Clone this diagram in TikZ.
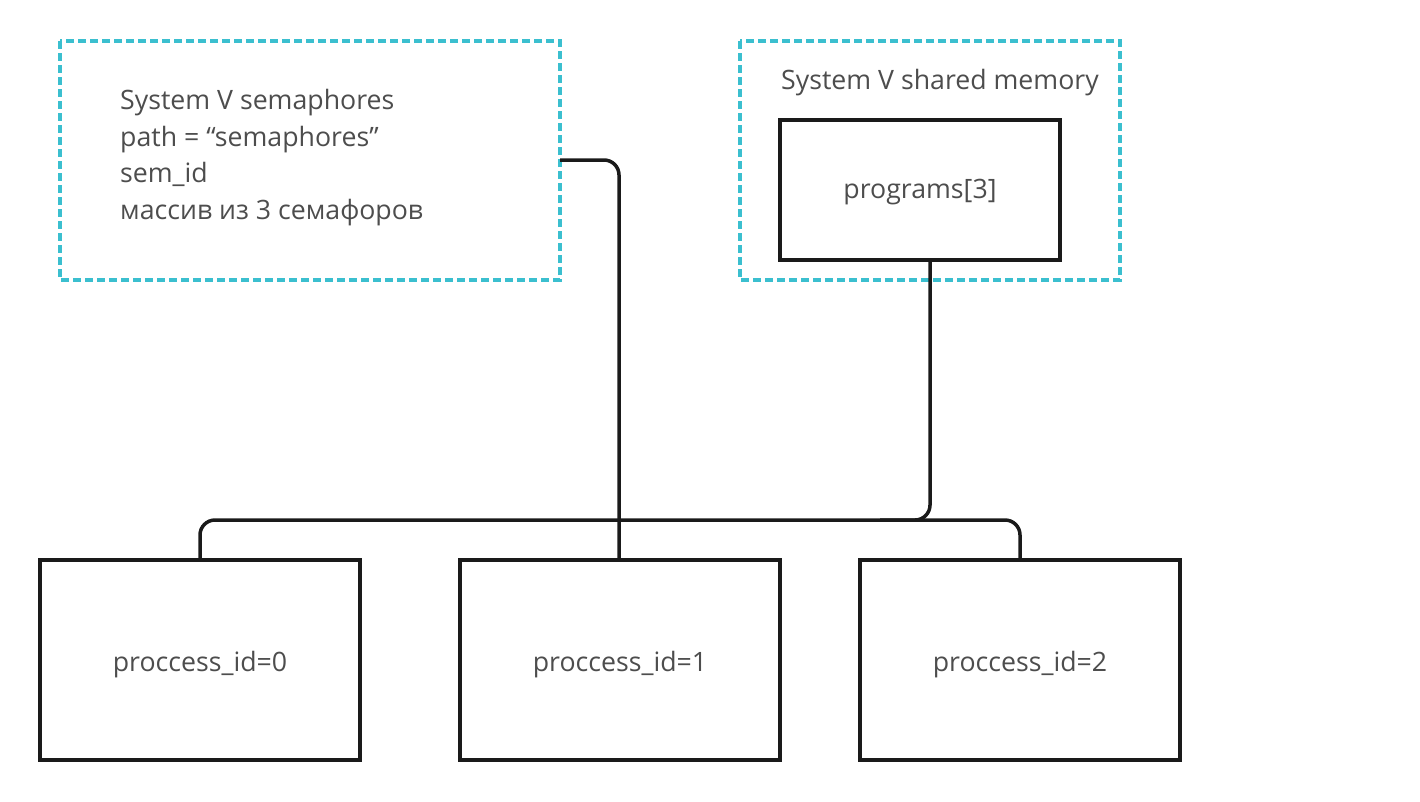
\documentclass[tikz,border=0pt]{standalone}
\usepackage{fontspec}
\setmainfont{Open Sans}
\definecolor{txt}{HTML}{4D4D4D}
\definecolor{teal}{HTML}{3BBFCF}
\definecolor{ink}{HTML}{1A1A1A}
\tikzset{
  grp/.style={draw=teal, line width=3.2pt, dash pattern=on 8pt off 4pt},
  box/.style={draw=ink, line width=3.5pt},
  lbl/.style={text=txt, font=\fontsize{26.7}{37}\selectfont, inner sep=0pt},
  wire/.style={draw=ink, line width=3.5pt, rounded corners=15pt}
}
\begin{document}
\begin{tikzpicture}[x=1pt,y=-1pt]
\useasboundingbox (0,0) rectangle (1420,801);
% group boxes
\draw[grp] (60,41) rectangle (560,280);
\draw[grp] (740,41) rectangle (1120,280);
\coordinate (semR) at (560,160);
\node[lbl, anchor=base west] (semtxt) at (120,109) {System V semaphores};
\node[lbl, anchor=base west] (semp) at (120,146) {path = “semaphores”};
\node[lbl, anchor=base west] (semi) at (120,182) {sem\_id};
\node[lbl, anchor=base west] (semm) at (120,219) {массив из 3 семафоров};
\node[lbl, anchor=base] (shmtxt) at (940,89) {System V shared memory};
% boxes
\node[box, minimum width=280pt, minimum height=140pt] (prog) at (920,190) {};
\node[box, minimum width=320pt, minimum height=200pt] (p0) at (200,660) {};
\node[box, minimum width=320pt, minimum height=200pt] (p1) at (620,660) {};
\node[box, minimum width=320pt, minimum height=200pt] (p2) at (1020,660) {};
\node[lbl, anchor=base] (progt) at (920,198) {programs[3]};
\node[lbl, anchor=base] (p0t) at (200,671) {proccess\_id=0};
\node[lbl, anchor=base] (p1t) at (620,671) {proccess\_id=1};
\node[lbl, anchor=base] (p2t) at (1020,671) {proccess\_id=2};
% wires
\draw[wire] (semR) -- (619,160) -- (p1.north -| 619,0);
\draw[wire] (p0.north) -- (200,520) -- (1020,520) -- (p2.north);
\draw[wire] (prog.south -| 930,0) -- (930,520) -- (880,520);
\end{tikzpicture}
\end{document}
